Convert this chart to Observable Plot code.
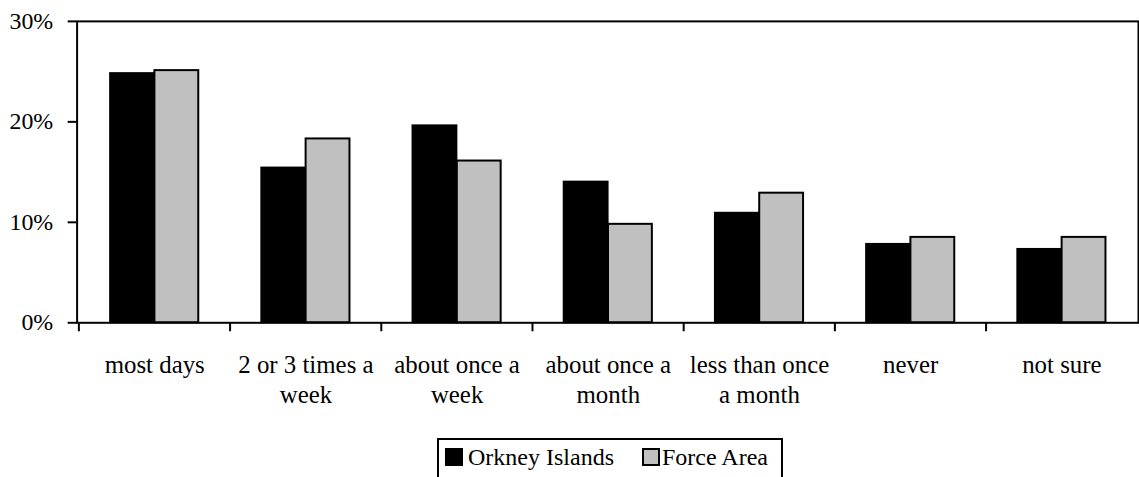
<!DOCTYPE html>
<html>
<head>
<meta charset="utf-8">
<script src="https://cdn.jsdelivr.net/npm/d3@7"></script>
<script src="https://cdn.jsdelivr.net/npm/@observablehq/plot@0.6"></script>
<style>
  html, body { margin: 0; padding: 0; background: #fff; overflow: hidden; }
  #wrap { position: relative; width: 1139px; height: 477px; overflow: hidden; }
  #legend {
    position: absolute; left: 437px; top: 438px; width: 342px; height: 40px;
    border: 2px solid #000; box-sizing: content-box;
    font-family: 'Liberation Serif', serif; font-size: 24px; line-height: 24px;
    white-space: nowrap; color: #000;
  }
  .sw { position: absolute; top: 8px; width: 18px; height: 18px; box-sizing: border-box; }
  .lt { position: absolute; top: 5px; }
</style>
</head>
<body>
<div id="wrap"><div id="chart"></div><div id="legend"></div></div>
<script>
const categories = ["most days", "2 or 3 times a week", "about once a week", "about once a month", "less than once a month", "never", "not sure"];
const tickLabels = ["most days", "2 or 3 times a\nweek", "about once a\nweek", "about once a\nmonth", "less than once\na month", "never", "not sure"];
const series = ["Orkney Islands", "Force Area"];
const orkney = [24.8, 15.4, 19.6, 14.0, 10.9, 7.8, 7.3];
const force = [25.1, 18.3, 16.1, 9.8, 12.9, 8.5, 8.5];
const colors = ["#000000", "#c0c0c0"];
const yTicks = [0, 10, 20, 30];

const rows = [];
categories.forEach((c, i) => {
  rows.push({category: c, series: series[0], value: orkney[i]});
  rows.push({category: c, series: series[1], value: force[i]});
});

const W = 1145, H = 430, ML = 77, MR = 1, MT = 21, MB = H - 324;
const B = (W - ML - MR) / categories.length;
const outer = 31.7;
const labelOf = new Map(categories.map((c, i) => [c, tickLabels[i]]));

const chart = Plot.plot({
  width: W, height: H,
  marginLeft: ML, marginRight: MR, marginTop: MT, marginBottom: MB,
  style: {fontFamily: "'Liberation Serif', serif", fontSize: "24px", background: "#fff", color: "#000", overflow: "visible"},
  x: {type: "band", domain: categories, padding: 0, label: null},
  y: {domain: [0, 30], label: null},
  marks: [
    Plot.barY(rows.filter(d => d.series === series[0]), {x: "category", y: "value", fill: colors[0], stroke: "#000", strokeWidth: 2, insetLeft: outer, insetRight: B / 2}),
    Plot.barY(rows.filter(d => d.series === series[1]), {x: "category", y: "value", fill: colors[1], stroke: "#000", strokeWidth: 2, insetLeft: B / 2, insetRight: outer}),
    Plot.frame({stroke: "#000", strokeWidth: 2}),
    Plot.axisY({ticks: yTicks, tickSize: 9, tickPadding: 15, strokeWidth: 2, tickFormat: d => d + "%", fontSize: 24, fontFamily: "'Liberation Serif', serif", label: null}),
    Plot.axisX({tickSize: 9, strokeWidth: 2, tickFormat: () => "", dx: -B / 2, label: null}),
    Plot.axisX({tickSize: 0, tickPadding: 28, fontSize: 25, fontFamily: "'Liberation Serif', serif", lineHeight: 1.24, tickFormat: d => labelOf.get(d), label: null})
  ]
});
document.getElementById("chart").appendChild(chart);

const legend = document.getElementById("legend");
const swatchLeft = [6, 203], textLeft = [29, 223];
series.forEach((s, i) => {
  const sw = document.createElement("span");
  sw.className = "sw";
  sw.style.left = swatchLeft[i] + "px";
  sw.style.background = colors[i];
  if (i > 0) sw.style.border = "2px solid #000";
  legend.appendChild(sw);
  const t = document.createElement("span");
  t.className = "lt";
  t.textContent = s;
  t.style.left = textLeft[i] + "px";
  legend.appendChild(t);
});
</script>
</body>
</html>
